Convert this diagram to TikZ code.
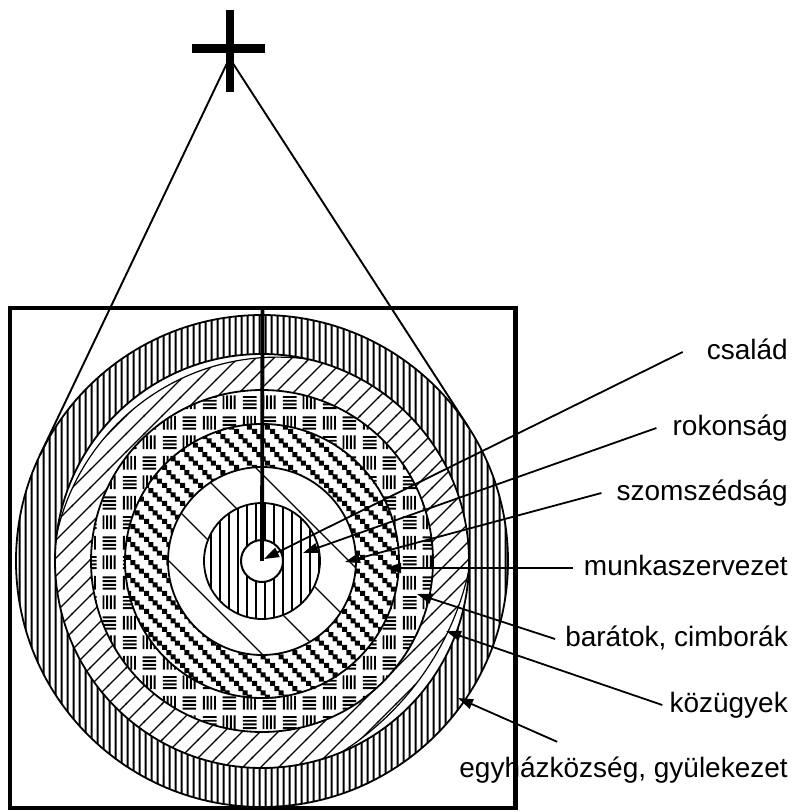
\documentclass[tikz,border=0pt]{standalone}
\usepackage{fontspec}
\setmainfont{Liberation Sans}
\usetikzlibrary{patterns,arrows.meta,calc}

% outer ring: dense vertical stripes
\pgfdeclarepatternformonly{vstripeA}{\pgfpointorigin}{\pgfqpoint{5.6pt}{10pt}}{\pgfqpoint{5.6pt}{10pt}}{%
  \pgfpathrectangle{\pgfqpoint{1.7pt}{-1pt}}{\pgfqpoint{2.2pt}{12pt}}\pgfusepath{fill}}
% inner disc: wider vertical stripes
\pgfdeclarepatternformonly{vstripeB}{\pgfpointorigin}{\pgfqpoint{9pt}{10pt}}{\pgfqpoint{9pt}{10pt}}{%
  \pgfpathrectangle{\pgfqpoint{3.5pt}{-1pt}}{\pgfqpoint{2pt}{12pt}}\pgfusepath{fill}}
% diagonal "/" hatch
\pgfdeclarepatternformonly{diagA}{\pgfqpoint{-1pt}{-1pt}}{\pgfqpoint{19pt}{19pt}}{\pgfqpoint{18pt}{18pt}}{%
  \pgfsetlinewidth{1.1pt}\pgfpathmoveto{\pgfqpoint{-1pt}{-1pt}}\pgfpathlineto{\pgfqpoint{19pt}{19pt}}\pgfusepath{stroke}}
% sparse "\" lines
\pgfdeclarepatternformonly{diagB}{\pgfqpoint{-1pt}{-1pt}}{\pgfqpoint{61pt}{61pt}}{\pgfqpoint{60pt}{60pt}}{%
  \pgfsetlinewidth{1.2pt}\pgfpathmoveto{\pgfqpoint{-1pt}{61pt}}\pgfpathlineto{\pgfqpoint{61pt}{-1pt}}\pgfusepath{stroke}}
% staircase chains of small squares
\pgfdeclarepatternformonly{chainsq}{\pgfpointorigin}{\pgfqpoint{18pt}{18pt}}{\pgfqpoint{18pt}{18pt}}{%
  \pgfpathrectangle{\pgfqpoint{0pt}{0pt}}{\pgfqpoint{5.4pt}{5.4pt}}%
  \pgfpathrectangle{\pgfqpoint{4.5pt}{13.5pt}}{\pgfqpoint{5.4pt}{5.4pt}}%
  \pgfpathrectangle{\pgfqpoint{9pt}{9pt}}{\pgfqpoint{5.4pt}{5.4pt}}%
  \pgfpathrectangle{\pgfqpoint{13.5pt}{4.5pt}}{\pgfqpoint{5.4pt}{5.4pt}}%
  \pgfusepath{fill}}
% basket weave blocks
\newcommand{\hblk}[2]{%
  \foreach \k in {0,1,2,3}{\pgfpathrectangle{\pgfqpoint{#1pt}{\dimexpr#2pt+\k\dimexpr3.8pt\relax\relax}}{\pgfqpoint{14pt}{1.9pt}}}}
\newcommand{\vblk}[2]{%
  \foreach \k in {0,1,2,3}{\pgfpathrectangle{\pgfqpoint{\dimexpr#1pt+\k\dimexpr3.8pt\relax\relax}{#2pt}}{\pgfqpoint{1.9pt}{14pt}}}}
\pgfdeclarepatternformonly{basket}{\pgfpointorigin}{\pgfqpoint{40pt}{40pt}}{\pgfqpoint{40pt}{40pt}}{%
  \hblk{3}{3}\vblk{23}{3}\vblk{3}{23}\hblk{23}{23}\pgfusepath{fill}}

\tikzset{
  ringline/.style={line width=1.8pt},
  conn/.style={line width=1.8pt,-{Triangle[length=15pt,width=10pt]}},
  lab/.style={anchor=base east,inner sep=0pt,text height=20pt,text depth=6pt,
    font=\fontsize{28}{34}\selectfont}
}

\begin{document}
\begin{tikzpicture}[x=1pt,y=-1pt]
\useasboundingbox (0,0) rectangle (802,812);
\coordinate (c) at (262,561);

% outer ring (vertical stripes)
\fill[white] (c) circle (246);
\fill[pattern=vstripeA] (c) circle (246);
% diagonal ring
\fill[white] (c) circle (207);
\fill[pattern=diagA] (c) circle (207);
\begin{scope}
  \clip (c) circle (207);
  \fill[white,even odd rule] (c) circle (207) (186.6,508.2) circle (289);
  \draw[line width=1.2pt] (186.6,508.2) circle (289);
  \fill[white,even odd rule] (c) circle (207) (277.7,583.4) circle (226.3);
  \draw[line width=1.2pt] (277.7,583.4) circle (226.3);
\end{scope}
\draw[ringline] (c) circle (207);
% basket ring
\fill[white] (c) circle (171);
\fill[pattern=basket] (c) circle (171);
\draw[ringline] (c) circle (171);
% chain ring
\fill[white] (c) circle (137);
\fill[pattern=chainsq] (c) circle (137);
\draw[ringline] (c) circle (137);
% white ring with sparse lines
\fill[white] (c) circle (94);
\fill[pattern=diagB] (c) circle (94);
\draw[ringline] (c) circle (94);
% inner striped disc
\fill[white] (c) circle (58);
\fill[pattern=vstripeB] (c) circle (58);
\draw[ringline] (c) circle (58);
% outer boundary
\node[circle,draw,line width=1.8pt,minimum size=492pt,inner sep=0pt,outer sep=0pt] (outer) at (c) {};

% square frame
\node[draw,line width=3.2pt,minimum width=505pt,minimum height=500pt,inner sep=0pt] (frame) at (262.5,558) {};

% labels
\node[lab] (l1) at (788,359) {család};
\node[lab] (l2) at (788,435) {rokonság};
\node[lab] (l3) at (788,500) {szomszédság};
\node[lab] (l4) at (788,575) {munkaszervezet};
\node[lab] (l5) at (788,646) {barátok, cimborák};
\node[lab] (l6) at (788,712) {közügyek};
\node[lab] (l7) at (788,777) {egyházközség, gyülekezet};
% right frame edge over the text
\draw[line width=3.2pt] (frame.north east) -- (frame.south east);

% vertical axis into the centre
\draw[line width=3.8pt] (frame.north) -- (c);
% centre disc
\node[circle,draw,fill=white,line width=2pt,minimum size=42pt,inner sep=0pt] (core) at (c) {};
\draw[line width=3.8pt] (core.north) -- (c);

% cross on top
\coordinate (apex) at (229.5,58);
\fill (225.5,10) rectangle (233.5,92);
\fill (192,44) rectangle (265,53);
\draw[line width=1.9pt] (apex) -- (tangent cs:node=outer,point={(apex)},solution=1);
\draw[line width=1.9pt] (apex) -- (tangent cs:node=outer,point={(apex)},solution=2);

% arrow tips
\coordinate (t1) at (264,559);
\coordinate (t2) at (303,553);
\coordinate (t3) at (345,562);
\coordinate (t4) at (386,568);
\coordinate (t5) at (417,594);
\coordinate (t6) at (446,631);
\coordinate (t7) at (458,698);

\draw[conn] ([xshift=-24pt]l1.west) -- (t1);
\draw[conn] ([xshift=-16pt]l2.west) -- (t2);
\draw[conn] ([xshift=-15pt]l3.west) -- (t3);
\draw[conn] ([xshift=-11pt]l4.west) -- (t4);
\draw[conn] ([xshift=-10pt]l5.west) -- (t5);
\draw[conn] ([xshift=-7pt]l6.west) -- (t6);
\draw[conn] ([xshift=98pt,yshift=15pt]l7.north west) -- (t7);
\end{tikzpicture}
\end{document}
